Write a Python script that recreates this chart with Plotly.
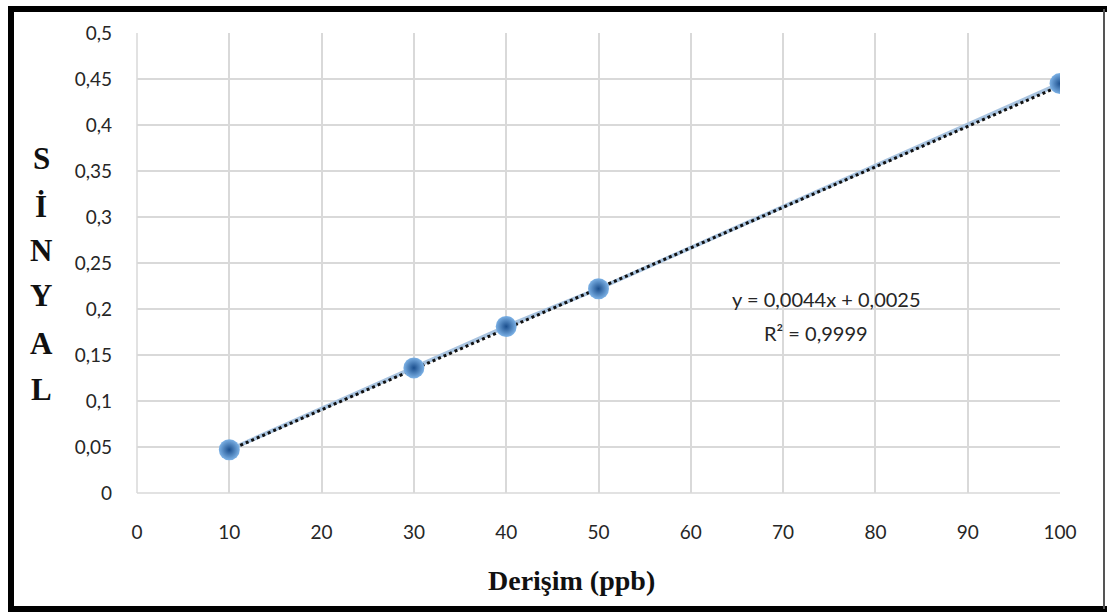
import plotly.graph_objects as go

# Data
concentration_ppb = [10, 30, 40, 50, 100]
signal = [0.047, 0.136, 0.181, 0.222, 0.445]

# Trend line (coefficients shown on the chart)
slope = 0.0044
intercept = 0.0025
trend_x = [min(concentration_ppb), max(concentration_ppb)]
trend_y = [slope * x + intercept for x in trend_x]

x_ticks = [0, 10, 20, 30, 40, 50, 60, 70, 80, 90, 100]
y_ticks = [0, 0.05, 0.1, 0.15, 0.2, 0.25, 0.3, 0.35, 0.4, 0.45, 0.5]
y_tick_text = ["0", "0,05", "0,1", "0,15", "0,2", "0,25", "0,3", "0,35", "0,4", "0,45", "0,5"]
y_title_letters = ["S", "İ", "N", "Y", "A", "L"]

W, H = 1107, 612
L, R, T, B = 137, 1060, 33, 493  # plot area in pixels

def px(xp):
    return (xp - L) / (R - L)

def py(yp):
    return (B - yp) / (B - T)

fig = go.Figure()

# light series connecting line
fig.add_trace(go.Scatter(
    x=concentration_ppb, y=signal, mode="lines",
    line=dict(color="#A9C4E0", width=4),
    hoverinfo="skip", showlegend=False))

# dotted trend line
fig.add_trace(go.Scatter(
    x=trend_x, y=trend_y, mode="lines",
    line=dict(color="#111111", width=3, dash="dot"),
    hoverinfo="skip", showlegend=False))

# sphere-like markers
fig.add_trace(go.Scatter(
    x=concentration_ppb, y=signal, mode="markers",
    marker=dict(size=21, color="#7DB2E6",
                gradient=dict(type="radial", color="#1B4F8E"),
                line=dict(width=0)),
    showlegend=False))

tick_font = dict(family="Lato, sans-serif", size=19, color="#262626")

fig.update_layout(
    width=W, height=H,
    margin=dict(l=L, r=W - R, t=T, b=H - B),
    paper_bgcolor="white", plot_bgcolor="white",
    font=dict(family="Lato, sans-serif", size=16, color="#262626"),
    xaxis=dict(range=[0, 100], tickvals=x_ticks, showgrid=True,
               gridcolor="#D9D9D9", gridwidth=1.5, zeroline=False,
               showline=False, ticks="", ticklabelstandoff=26,
               tickfont=tick_font),
    yaxis=dict(range=[0, 0.5], tickvals=y_ticks, ticktext=y_tick_text,
               showgrid=True, gridcolor="#D9D9D9", gridwidth=1.5,
               zeroline=False, showline=False, ticks="",
               ticklabelstandoff=24,
               tickfont=tick_font),
)

# left gridline at x=0 and bottom at y=0
fig.add_shape(type="line", xref="paper", yref="paper", x0=0, x1=0, y0=0, y1=1,
              line=dict(color="#D9D9D9", width=1.5), layer="below")
fig.add_shape(type="line", xref="paper", yref="paper", x0=0, x1=1, y0=0, y1=0,
              line=dict(color="#D9D9D9", width=1.5), layer="below")

# frame
fig.add_shape(type="line", xref="paper", yref="paper", x0=px(11), x1=px(11),
              y0=py(6), y1=py(609), line=dict(color="black", width=6))
fig.add_shape(type="line", xref="paper", yref="paper", x0=px(8), x1=px(1107),
              y0=py(9), y1=py(9), line=dict(color="black", width=6))
fig.add_shape(type="line", xref="paper", yref="paper", x0=px(8), x1=px(1107),
              y0=py(609), y1=py(609), line=dict(color="black", width=6))
fig.add_shape(type="line", xref="paper", yref="paper", x0=px(1104), x1=px(1104),
              y0=py(9), y1=py(609), line=dict(color="#555555", width=2))

# x-axis title
fig.add_annotation(text="<b>Derişim (ppb)</b>", xref="paper", yref="paper",
                   x=px(571), y=py(580), showarrow=False,
                   font=dict(family="Liberation Serif, serif", size=28, color="#111111"),
                   xanchor="center", yanchor="middle")

# stacked y-axis title
letter_y = [158, 206, 250, 296, 343, 389]
for ch, yy in zip(y_title_letters, letter_y):
    fig.add_annotation(text="<b>" + ch + "</b>", xref="paper", yref="paper",
                       x=px(41), y=py(yy), showarrow=False,
                       font=dict(family="Liberation Serif, serif", size=31, color="#111111"),
                       xanchor="center", yanchor="middle")

# equation
fig.add_annotation(text="y = 0,0044x + 0,0025", xref="paper", yref="paper",
                   x=px(826), y=py(299), showarrow=False,
                   font=dict(family="Lato, sans-serif", size=20, color="#262626"),
                   xanchor="center", yanchor="middle")
fig.add_annotation(text="R² = 0,9999", xref="paper", yref="paper",
                   x=px(816), y=py(333), showarrow=False,
                   font=dict(family="Lato, sans-serif", size=20, color="#262626"),
                   xanchor="center", yanchor="middle")

fig.write_html("out.html")
